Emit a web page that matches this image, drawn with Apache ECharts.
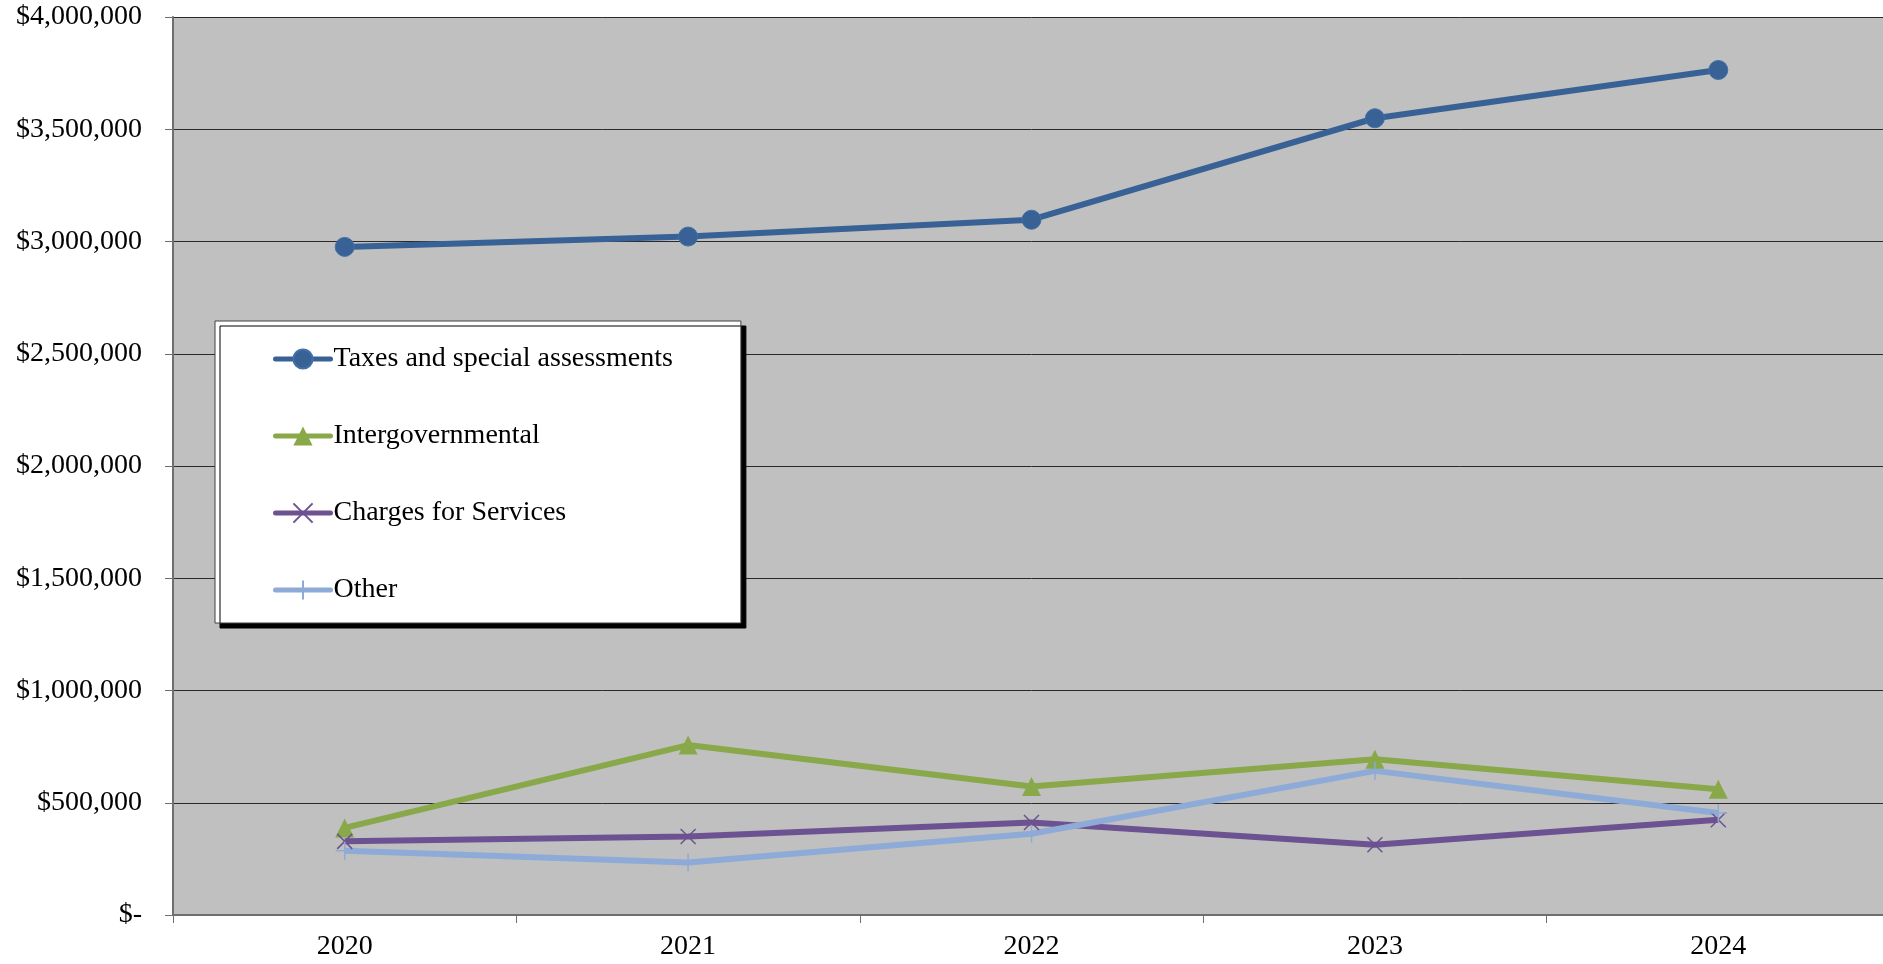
<!DOCTYPE html>
<html>
<head>
<meta charset="utf-8">
<script src="https://cdn.jsdelivr.net/npm/echarts@6/dist/echarts.min.js"></script>
<style>
html,body{margin:0;padding:0;background:#fff;overflow:hidden;}
#chart{width:1890px;height:964px;}
</style>
</head>
<body>
<div id="chart"></div>
<script>
const years = ['2020', '2021', '2022', '2023', '2024'];
const seriesNames = ['Taxes and special assessments', 'Intergovernmental', 'Charges for Services', 'Other'];
const taxes = [2976000, 3022000, 3097000, 3549000, 3764000];
const intergovernmental = [388000, 757000, 572000, 694000, 560000];
const charges = [328000, 350000, 412000, 313000, 424000];
const other = [286000, 234000, 362000, 642000, 454000];
const yTicks = { min: 0, max: 4000000, interval: 500000 };

const FONT = 'Liberation Serif';
const chart = echarts.init(document.getElementById('chart'));

function money(v) {
  if (v === 0) return '$-';
  return '$' + v.toLocaleString('en-US');
}

chart.setOption({
  animation: false,
  backgroundColor: '#ffffff',
  grid: {
    left: 173, right: 0, top: 17, bottom: 49,
    show: true, backgroundColor: '#c0c0c0', borderWidth: 0
  },
  legend: {
    orient: 'vertical',
    left: 215, top: 321,
    padding: [24, 68, 19, 58],
    itemWidth: 55, itemHeight: 24, itemGap: 49,
    backgroundColor: '#ffffff',
    borderColor: '#404040', borderWidth: 1,
    shadowColor: '#000000', shadowOffsetX: 5, shadowOffsetY: 5, shadowBlur: 0,
    lineStyle: { width: 5, cap: 'round' },
    textStyle: { fontFamily: FONT, fontSize: 28, color: '#000', lineHeight: 24, padding: [0, 0, 0, -2] },
    data: seriesNames
  },
  xAxis: {
    type: 'category',
    data: years,
    boundaryGap: true,
    axisLine: { show: true, lineStyle: { color: '#6e6e6e', width: 2 } },
    axisTick: { show: true, length: 8, lineStyle: { color: '#6e6e6e', width: 1 } },
    axisLabel: { fontFamily: FONT, fontSize: 28, color: '#000', margin: 18 }
  },
  yAxis: {
    type: 'value',
    min: yTicks.min, max: yTicks.max, interval: yTicks.interval,
    axisLine: { show: true, lineStyle: { color: '#6e6e6e', width: 2 } },
    axisTick: { show: true, length: 8, lineStyle: { color: '#6e6e6e', width: 1 } },
    splitLine: { show: true, lineStyle: { color: '#2a2a2a', width: 1 } },
    axisLabel: { fontFamily: FONT, fontSize: 28, color: '#000', margin: 31, formatter: money }
  },
  series: [
    {
      name: seriesNames[0], type: 'line', data: taxes,
      symbol: 'circle', symbolSize: 19,
      lineStyle: { color: '#386196', width: 6 },
      itemStyle: { color: '#386196', borderColor: '#4470a6', borderWidth: 1 }
    },
    {
      name: seriesNames[1], type: 'line', data: intergovernmental,
      symbol: 'triangle', symbolSize: 19,
      lineStyle: { color: '#88a84a', width: 6 },
      itemStyle: { color: '#88a84a' }
    },
    {
      name: seriesNames[2], type: 'line', data: charges,
      symbol: 'path://M0,0L10,10M10,0L0,10', symbolSize: 15,
      lineStyle: { color: '#6c5290', width: 6 },
      itemStyle: { color: '#6c5290', borderColor: '#6c5290', borderWidth: 1.5 }
    },
    {
      name: seriesNames[3], type: 'line', data: other,
      symbol: 'path://M5,0L5,10M0,5L10,5', symbolSize: 18,
      lineStyle: { color: '#8eaad6', width: 6 },
      itemStyle: { color: '#8eaad6', borderColor: '#8eaad6', borderWidth: 1.5 }
    }
  ]
});
</script>
</body>
</html>
